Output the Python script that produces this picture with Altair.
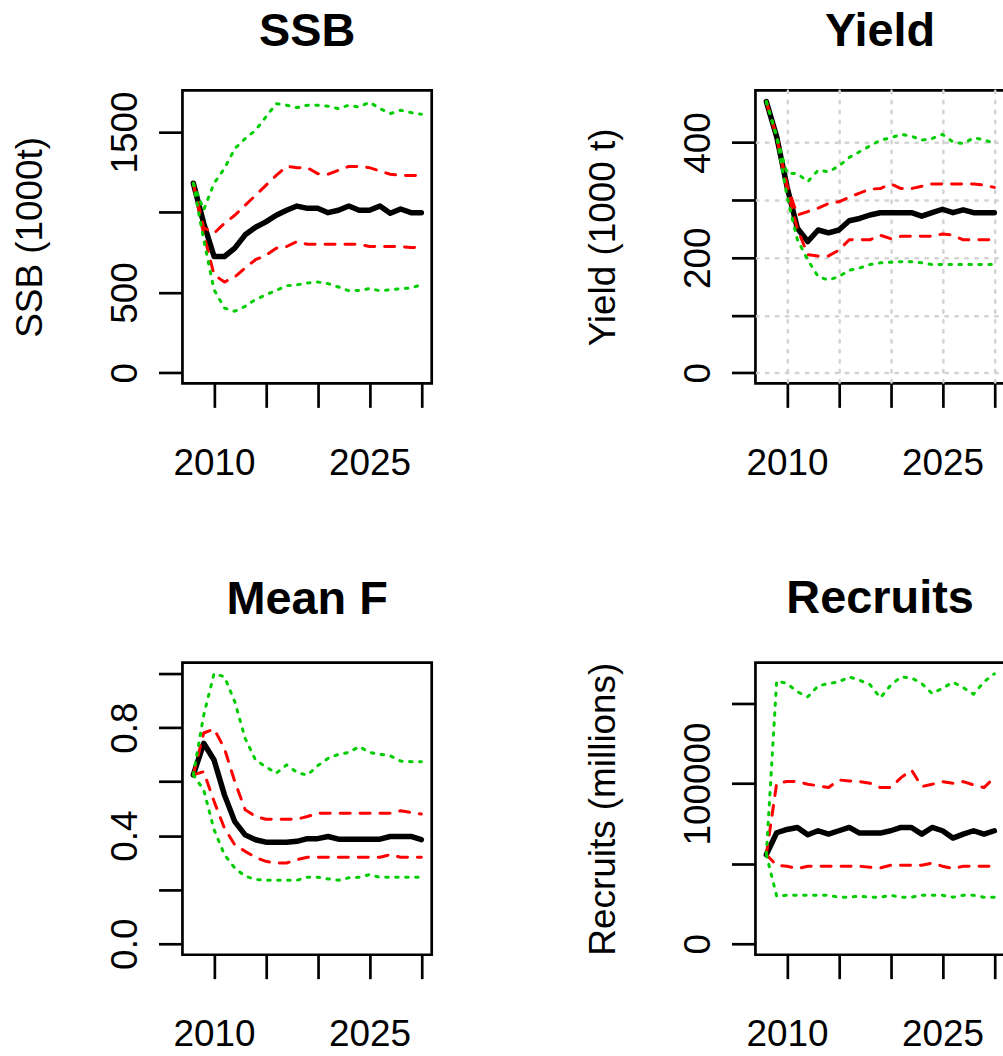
import altair as alt
import pandas as pd

FONT = "Liberation Sans"

years = list(range(2008, 2031))

# ---- SSB (1000t) ----
ssb_med = [1180, 931, 724, 724, 776, 859, 906, 940, 981, 1012, 1038, 1024, 1024, 997, 1012, 1038, 1012, 1012, 1038, 993, 1020, 997, 997]
ssb_rhi = [1180, 904, 869, 931, 981, 1043, 1105, 1167, 1229, 1285, 1277, 1277, 1240, 1236, 1261, 1285, 1285, 1277, 1256, 1236, 1229, 1229, 1229]
ssb_rlo = [1180, 865, 610, 565, 596, 652, 704, 731, 776, 786, 817, 800, 800, 800, 800, 800, 800, 786, 786, 786, 786, 780, 780]
ssb_ghi = [1180, 1014, 1180, 1272, 1396, 1458, 1510, 1593, 1676, 1666, 1651, 1666, 1666, 1660, 1645, 1666, 1655, 1685, 1645, 1614, 1635, 1620, 1610]
ssb_glo = [1180, 828, 517, 403, 383, 414, 456, 486, 513, 542, 548, 559, 565, 555, 534, 511, 513, 524, 511, 517, 524, 528, 548]

# ---- Yield (1000 t) ----
yld_med = [471, 410, 323, 251, 228, 248, 243, 248, 264, 268, 274, 278, 278, 278, 278, 272, 278, 284, 278, 283, 278, 278, 278]
yld_rhi = [471, 410, 326, 274, 280, 286, 294, 297, 305, 312, 319, 320, 328, 320, 320, 324, 328, 328, 328, 328, 328, 326, 322]
yld_rlo = [471, 410, 318, 250, 205, 203, 203, 213, 231, 231, 231, 239, 233, 237, 237, 237, 237, 241, 239, 231, 231, 231, 231]
yld_ghi = [471, 410, 346, 346, 332, 352, 349, 359, 374, 384, 394, 404, 408, 414, 411, 404, 407, 414, 401, 398, 408, 405, 398]
yld_glo = [471, 410, 306, 231, 196, 167, 161, 167, 178, 182, 188, 191, 192, 193, 193, 191, 188, 188, 188, 188, 188, 188, 188]

# ---- Mean F ----
f_med = [0.625, 0.742, 0.680, 0.551, 0.452, 0.403, 0.385, 0.376, 0.376, 0.376, 0.379, 0.389, 0.389, 0.397, 0.387, 0.387, 0.387, 0.387, 0.387, 0.397, 0.397, 0.397, 0.385]
f_rhi = [0.625, 0.780, 0.795, 0.723, 0.600, 0.496, 0.471, 0.461, 0.461, 0.461, 0.461, 0.471, 0.483, 0.483, 0.483, 0.483, 0.483, 0.483, 0.483, 0.483, 0.492, 0.486, 0.480]
f_rlo = [0.625, 0.637, 0.527, 0.428, 0.366, 0.342, 0.320, 0.305, 0.299, 0.299, 0.311, 0.320, 0.320, 0.320, 0.320, 0.320, 0.320, 0.320, 0.320, 0.330, 0.320, 0.320, 0.320]
f_ghi = [0.625, 0.846, 1.000, 0.988, 0.896, 0.760, 0.680, 0.655, 0.631, 0.662, 0.634, 0.624, 0.659, 0.686, 0.701, 0.708, 0.730, 0.708, 0.701, 0.696, 0.676, 0.674, 0.674]
f_glo = [0.625, 0.569, 0.422, 0.330, 0.280, 0.250, 0.238, 0.235, 0.235, 0.235, 0.235, 0.246, 0.246, 0.240, 0.235, 0.244, 0.246, 0.256, 0.246, 0.246, 0.246, 0.246, 0.246]

# ---- Recruits (millions) ----
rec_med = [55600, 69300, 71350, 72600, 68050, 70540, 68450, 70540, 72600, 69090, 69090, 69090, 70540, 72600, 72600, 68450, 72600, 70540, 65970, 68450, 70540, 68450, 70540]
rec_rhi = [55600, 100200, 101240, 101240, 99600, 98600, 97500, 102260, 101660, 101240, 100200, 97500, 97500, 103700, 108500, 98130, 99580, 101240, 100200, 101240, 99170, 97500, 103730]
rec_rlo = [55600, 49000, 48390, 46950, 48390, 48390, 48390, 48390, 48390, 48390, 47800, 47350, 49000, 49000, 49000, 49000, 50410, 48390, 46950, 48390, 48390, 48390, 48390]
rec_ghi = [55600, 164100, 162450, 157250, 154150, 161000, 162450, 163500, 166600, 164500, 161800, 153500, 161400, 166600, 166000, 162450, 156200, 159500, 163300, 159900, 155800, 163500, 168500]
rec_glo = [55600, 29670, 30290, 30290, 30290, 30290, 30290, 29050, 29050, 29670, 29050, 29050, 30290, 29050, 29050, 30290, 30290, 30290, 29050, 30290, 30290, 29050, 29050]

x_ticks = [2010, 2015, 2020, 2025, 2030]
x_labelled = [2010, 2025]


def long_df(med, rhi, rlo, ghi, glo):
    rows = []
    for name, vals in [("med", med), ("rhi", rhi), ("rlo", rlo), ("ghi", ghi), ("glo", glo)]:
        for yr, v in zip(years, vals):
            rows.append({"year": yr, "value": v, "band": name})
    return pd.DataFrame(rows)


def label_expr(vals):
    cond = " || ".join(f"datum.value == {v}" for v in vals)
    return f"({cond}) ? datum.label : ''"


def panel(title, ytitle, data, ydomain, yticks, ylabels, yfmt, height, toff, grid=False):
    df = long_df(*data)
    xaxis = alt.Axis(
        values=x_ticks, format="d", labelExpr=label_expr(x_labelled), title=None,
        domain=False, tickSize=24, tickWidth=2.7, tickColor="black",
        labelFont=FONT, labelFontSize=37, labelColor="black",
        labelPadding=67, labelBaseline="alphabetic", labelAlign="center",
        labelFlush=False, labelOverlap=False,
        grid=grid, gridColor="#D3D3D3", gridDash=[2.5, 7.5], gridWidth=2.5, gridCap="round",
    )
    yargs = dict(
        values=yticks, format=yfmt, labelExpr=label_expr(ylabels),
        domain=False, tickSize=24, tickWidth=2.7, tickColor="black",
        labelFont=FONT, labelFontSize=37, labelColor="black",
        labelAngle=270, labelAlign="center", labelBaseline="alphabetic",
        labelPadding=22, labelFlush=False, labelOverlap=False,
        grid=grid, gridColor="#D3D3D3", gridDash=[2.5, 7.5], gridWidth=2.5, gridCap="round",
    )
    if ytitle:
        yargs.update(
            title=ytitle, titleFont=FONT, titleFontSize=37, titleFontWeight="normal",
            titleColor="black", titleAngle=270, titleAlign="center",
            titleBaseline="alphabetic", titleX=-141, titleY=height / 2,
        )
    else:
        yargs.update(title=None)
    yaxis = alt.Axis(**yargs)

    base = alt.Chart(df).encode(
        x=alt.X("year:Q", scale=alt.Scale(domain=[2006.95, 2031.0], nice=False, zero=False), axis=xaxis),
        y=alt.Y("value:Q", scale=alt.Scale(domain=ydomain, nice=False, zero=False), axis=yaxis),
    )
    black = base.transform_filter("datum.band == 'med'").mark_line(
        color="black", strokeWidth=5.5, strokeCap="round", strokeJoin="round")
    red = base.transform_filter("datum.band == 'rhi' || datum.band == 'rlo'").mark_line(
        color="#FF0000", strokeWidth=3, strokeDash=[10, 10], strokeCap="round", strokeJoin="round"
    ).encode(detail="band:N")
    green = base.transform_filter("datum.band == 'ghi' || datum.band == 'glo'").mark_line(
        color="#00CD00", strokeWidth=3, strokeDash=[2.5, 7.5], strokeCap="round", strokeJoin="round"
    ).encode(detail="band:N")

    return alt.layer(black, red, green).properties(
        width=250, height=height,
        title=alt.TitleParams(
            text=title, font=FONT, fontSize=47, fontWeight="bold", color="black",
            anchor="middle", frame="group", baseline="alphabetic", offset=toff,
        ),
    )


ssb = panel("SSB", "SSB (1000t)", (ssb_med, ssb_rhi, ssb_rlo, ssb_ghi, ssb_glo),
            [-66.4, 1758.9], [0, 500, 1000, 1500], [0, 500, 1500], "d", 294, -3)
yld = panel("Yield", "Yield (1000 t)", (yld_med, yld_rhi, yld_rlo, yld_ghi, yld_glo),
            [-18.5, 490.6], [0, 100, 200, 300, 400], [0, 200, 400], "d", 294, -3, grid=True)
mf = panel("Mean F", None, (f_med, f_rhi, f_rlo, f_ghi, f_glo),
           [-0.0406, 1.0406], [0, 0.2, 0.4, 0.6, 0.8, 1.0], [0, 0.4, 0.8], ".1f", 293, 2)
rec = panel("Recruits", "Recruits (millions)", (rec_med, rec_rhi, rec_rlo, rec_ghi, rec_glo),
            [-6846, 175515], [0, 50000, 100000, 150000], [0, 100000], "d", 293, 2)

chart = alt.concat(
    ssb, yld, mf, rec, columns=2, spacing={"row": 280, "column": 324.7}, bounds="flush"
).properties(
    padding={"left": 10, "top": 5, "right": -4, "bottom": 0},
    background="white",
).configure_view(stroke="black", strokeWidth=2.7)

chart.save("out.html", embed_options={"renderer": "svg", "actions": False})
